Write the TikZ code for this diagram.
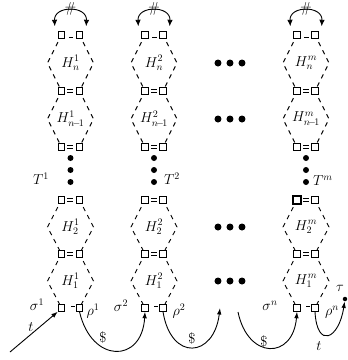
\documentclass[tikz,border=0pt]{standalone}
\usetikzlibrary{arrows.meta}
\begin{document}
\begin{tikzpicture}[x=1pt,y=-1pt,
  sq/.style={draw,fill=white,minimum size=6.5pt,inner sep=0pt,line width=0.9pt},
  blacksq/.style={draw,fill=white,minimum size=7.5pt,inner sep=0pt,line width=2.4pt},
  hexside/.style={line width=0.9pt,dash pattern=on 4.5pt off 4.5pt,dash phase=1pt},
  gap/.style={line width=0.9pt},
  lbl/.style={font=\fontsize{14.4}{17}\selectfont,inner sep=0pt},
  bigdot/.style={circle,fill=black,minimum size=7pt,inner sep=0pt},
  vdot/.style={circle,fill=black,minimum size=6pt,inner sep=0pt},
  enddot/.style={circle,fill=black,minimum size=4.5pt,inner sep=0pt},
  conn/.style={line width=0.9pt},
  tip/.style={-{Latex[length=6.5pt,width=4.5pt]}},
  twotip/.style={{Latex[length=6.5pt,width=5.5pt]}-{Latex[length=6.5pt,width=5.5pt]}},
]
\useasboundingbox (0,0) rectangle (348,360);

% dashed hexagon sides of every column
\foreach \cx in {70.5,154,306}{
  \foreach \ya/\yb in {35/91,91/147,200/254,254/308}{
    \draw[hexside] (\cx-9,\ya) -- ({\cx-23},{(\ya+\yb)/2}) -- (\cx-9,\yb);
    \draw[hexside] (\cx+9,\ya) -- ({\cx+23},{(\ya+\yb)/2}) -- (\cx+9,\yb);
  }
  % short edges between the paired squares
  \draw[gap] (\cx-1.5,37) -- (\cx+3,37);
  \foreach \y in {91,147,200,254}{
    \draw[gap] (\cx-3,\y-1.5) -- (\cx+3,\y-1.5);
    \draw[gap] (\cx-3,\y+1.5) -- (\cx+3,\y+1.5);
  }
  \draw[gap] (\cx+0.5,306) -- (\cx+4.5,306);
  % vertical dots
  \node[vdot] at (\cx,158) {};
  \node[vdot] at (\cx,170) {};
  \node[vdot] at (\cx,182) {};
}

% square pairs of the three columns
\foreach \c/\cx in {a/70.5,b/154,m/306}{
  \foreach \k/\y in {1/35,2/91,3/147,4/200,5/254,6/308}{
    \node[sq] (L\c\k) at (\cx-9,\y) {};
    \node[sq] (R\c\k) at (\cx+9,\y) {};
  }
}
\node[blacksq] at (Lm4) {};

% hexagon labels
\foreach \c/\cx in {1/70.5,2/154,m/306}{
  \node[lbl] at (\cx,63)  {$H^{\c}_{n}$};
  \node[lbl] at (\cx,119) {$H^{\c}_{n\!-\!1}$};
  \node[lbl] at (\cx,227) {$H^{\c}_{2}$};
  \node[lbl] at (\cx,281) {$H^{\c}_{1}$};
}

% horizontal ellipses between column 2 and column m
\foreach \y in {63,119,227,281}{
  \foreach \x in {218,230,242}{
    \node[bigdot] at (\x,\y) {};
  }
}

% T labels
\node[lbl] at (41,179) {$T^1$};
\node[lbl] at (172,179) {$T^2$};
\node[lbl] at (323,181) {$T^m$};

% top arcs labelled #
\foreach \c/\cx in {a/70.5,b/154,m/306}{
  \draw[conn,twotip] ([shift={(-3,-5)}]L\c1.north west)
     .. controls +(-1,-21) and +(1,-21) .. ([shift={(3,-5)}]R\c1.north east);
  \node[lbl] at (\cx,9) {$\#$};
}

% bottom connectors
\coordinate (in) at (10,352);
\coordinate (e2) at (220,308);
\coordinate (s3) at (238,312);
\node[enddot] (tau) at (345,299) {};

\draw[conn,tip] (in) -- (La6.south west);
\node[lbl] at (31,327) {$t$};

\draw[conn,tip] (Ra6.south) .. controls +(12,52) and +(-3,52) .. (Lb6.south);
\draw[conn,tip] (Rb6.south) .. controls +(8,50) and +(-6,50) .. (e2);
\draw[conn,tip] (s3) .. controls +(10,48) and +(-4,48) .. (Lm6.south);
\draw[conn,tip] (Rm6.south) .. controls +(2,38) and +(-6,40) .. (tau);

\node[lbl] at (103,337) {\$};
\node[lbl] at (192,338) {\$};
\node[lbl] at (264,341) {\$};
\node[lbl] at (319,346) {$t$};
\node[lbl] at (340,288) {$\tau$};

\node[lbl] at (37,305) {$\sigma^1$};
\node[lbl] at (93,311) {$\rho^1$};
\node[lbl] at (121,306) {$\sigma^2$};
\node[lbl] at (179,311) {$\rho^2$};
\node[lbl] at (270,306) {$\sigma^n$};
\node[lbl] at (332,312) {$\rho^n$};
\end{tikzpicture}
\end{document}
